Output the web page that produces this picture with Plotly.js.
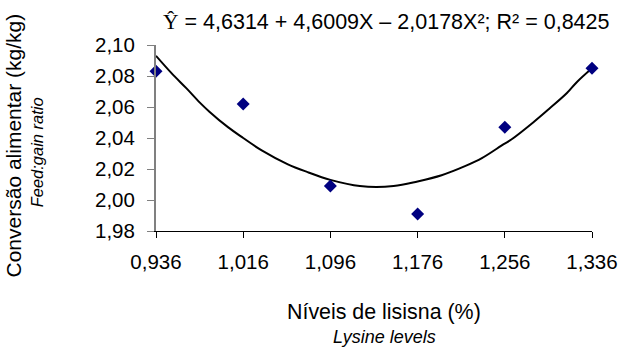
<!DOCTYPE html>
<html>
<head>
<meta charset="utf-8">
<script src="https://cdn.plot.ly/plotly-3.0.1.min.js"></script>
<style>html,body{margin:0;padding:0;background:#fff;}#chart{width:618px;height:348px;}</style>
</head>
<body>
<div id="chart"></div>
<script>
// Observed data (lysine level %, feed:gain ratio)
const lysineLevels = [0.936, 1.016, 1.096, 1.176, 1.256, 1.336];
const feedGain = [2.083, 2.062, 2.009, 1.991, 2.047, 2.085];

// Fitted curve
const curveX = [0.936, 0.950, 0.964, 0.976, 0.985, 1.002, 1.016, 1.033, 1.057, 1.075, 1.096, 1.123, 1.154, 1.176, 1.198, 1.220, 1.235, 1.255, 1.262, 1.282, 1.297, 1.313, 1.322, 1.336];
const curveY = [2.093, 2.082, 2.072, 2.063, 2.057, 2.047, 2.040, 2.032, 2.023, 2.018, 2.013, 2.009, 2.009, 2.012, 2.016, 2.022, 2.027, 2.036, 2.039, 2.050, 2.059, 2.069, 2.076, 2.085];

const xTicks = [0.936, 1.016, 1.096, 1.176, 1.256, 1.336];
const xTickText = ["0,936", "1,016", "1,096", "1,176", "1,256", "1,336"];
const yTicks = [1.98, 2.00, 2.02, 2.04, 2.06, 2.08, 2.10];
const yTickText = ["1,98", "2,00", "2,02", "2,04", "2,06", "2,08", "2,10"];

const titleText = '<span style="font-family:Liberation Serif,Times New Roman,serif">Ŷ</span> = 4,6314 + 4,6009X – 2,0178X²; R² = 0,8425';
const xTitle = 'Níveis de lisisna (%)';
const xSubTitle = '<i>Lysine levels</i>';
const yTitle = 'Conversão alimentar (kg/kg)';
const ySubTitle = '<i>Feed:gain ratio</i>';

const FONT = 'Liberation Sans, Arial, sans-serif';

const traces = [
  {
    x: curveX, y: curveY, type: 'scatter', mode: 'lines',
    line: {color: '#000000', width: 2, shape: 'spline', smoothing: 1},
    hoverinfo: 'skip', showlegend: false
  },
  {
    x: lysineLevels, y: feedGain, type: 'scatter', mode: 'markers',
    marker: {symbol: 'diamond', size: 10, color: '#000080'},
    cliponaxis: false, showlegend: false
  }
];

const layout = {
  width: 618, height: 348,
  margin: {l: 156, r: 26, t: 45, b: 117},
  paper_bgcolor: '#ffffff', plot_bgcolor: '#ffffff',
  font: {family: FONT, size: 20, color: '#000000'},
  showlegend: false,
  xaxis: {
    range: [0.936, 1.336], tickmode: 'array', tickvals: xTicks, ticktext: xTickText,
    showgrid: false, zeroline: false, showline: true, linecolor: '#000000', linewidth: 1,
    ticks: 'outside', ticklen: 6, tickcolor: '#000000', tickwidth: 1,
    tickfont: {family: FONT, size: 20.5, color: '#000000'},
    ticklabelstandoff: 6
  },
  yaxis: {
    range: [1.98, 2.10], tickmode: 'array', tickvals: yTicks, ticktext: yTickText,
    showgrid: false, zeroline: false, showline: true, linecolor: '#808080', linewidth: 2,
    ticks: 'outside', ticklen: 7, tickcolor: '#808080', tickwidth: 1,
    tickfont: {family: FONT, size: 20.5, color: '#000000'},
    ticklabelstandoff: 8
  },
  annotations: [
    {text: titleText, xref: 'paper', yref: 'paper', x: 0.527, y: 1.121, xanchor: 'center', yanchor: 'middle', showarrow: false, font: {family: FONT, size: 21.5, color: '#000'}},
    {text: xTitle, xref: 'paper', yref: 'paper', x: 0.524, y: -0.433, xanchor: 'center', yanchor: 'middle', showarrow: false, font: {family: FONT, size: 21.4, color: '#000'}},
    {text: xSubTitle, xref: 'paper', yref: 'paper', x: 0.523, y: -0.570, xanchor: 'center', yanchor: 'middle', showarrow: false, font: {family: FONT, size: 18, color: '#000'}},
    {text: yTitle, xref: 'paper', yref: 'paper', x: -0.327, y: 0.462, xanchor: 'center', yanchor: 'middle', textangle: -90, showarrow: false, font: {family: FONT, size: 21, color: '#000'}},
    {text: ySubTitle, xref: 'paper', yref: 'paper', x: -0.272, y: 0.425, xanchor: 'center', yanchor: 'middle', textangle: -90, showarrow: false, font: {family: FONT, size: 16.5, color: '#000'}}
  ]
};

Plotly.newPlot('chart', traces, layout, {displayModeBar: false, staticPlot: true});
</script>
</body>
</html>
